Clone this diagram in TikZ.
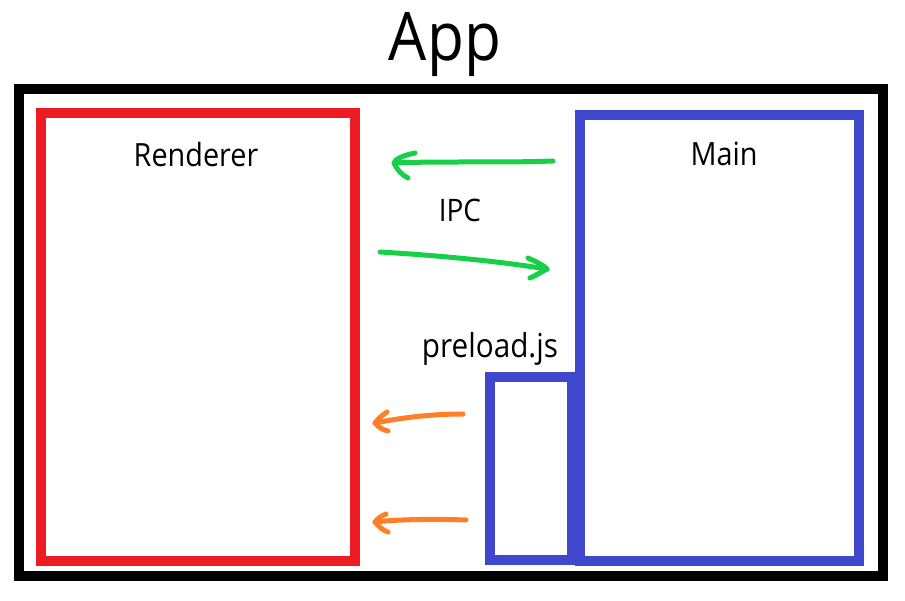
\documentclass[tikz,border=0pt]{standalone}
\usepackage{fontspec}
\setmainfont[FakeStretch=0.9]{Open Sans}
\definecolor{appblack}{RGB}{0,0,0}
\definecolor{rendred}{RGB}{237,28,36}
\definecolor{mainblue}{RGB}{63,72,204}
\definecolor{ipcgreen}{RGB}{22,208,72}
\definecolor{preorange}{RGB}{255,127,39}
\begin{document}
\begin{tikzpicture}[x=1pt,y=-1pt,
  boxline/.style={draw=#1,line width=10pt,fill=none,inner sep=0pt,outer sep=0pt},
  lbl/.style={anchor=base,inner sep=0pt,font=\fontsize{32}{36}\selectfont},
  stroke/.style={draw=#1,line width=5pt,line cap=round,line join=round}]
\useasboundingbox[fill=white] (0,0) rectangle (905,601);
% frames
\node[boxline=appblack,minimum width=864.3pt,minimum height=486.8pt] (app) at (451.15,332.4) {};
\node[boxline=rendred,minimum width=314.3pt,minimum height=447.7pt] (renderer) at (198.15,336.85) {};
\node[boxline=mainblue,minimum width=278.7pt,minimum height=446pt] (main) at (719.35,338) {};
\node[boxline=mainblue,minimum width=82pt,minimum height=182.5pt] (preload) at (531,468.25) {};
% texts
\node[lbl,font=\fontsize{67}{70}\selectfont] (apptxt) at (445,61) {App};
\node[lbl] (rendtxt) at (196,167) {Renderer};
\node[lbl] (maintxt) at (724,166) {Main};
\node[lbl,font=\fontsize{31}{34}\selectfont] (ipctxt) at (460,222) {IPC};
\node[lbl,font=\fontsize{33}{36}\selectfont] (pretxt) at (490,358) {preload.js};
% arrow coordinates
\coordinate (g1s) at (553,161);
\coordinate (g1e) at (394,163);
\coordinate (g2s) at (380,252);
\coordinate (g2e) at (547,269);
\coordinate (o1s) at (463,414);
\coordinate (o1e) at (375,423);
\coordinate (o2s) at (466,520);
\coordinate (o2e) at (375,522);
% green IPC arrows
\draw[stroke=ipcgreen] (g1s) .. controls (500,163) and (440,161) .. (g1e);
\draw[stroke=ipcgreen] (415,153) .. controls (400,156) and (395,160) .. (g1e) .. controls (397,170) and (402,175) .. (408,178);
\draw[stroke=ipcgreen] (g2s) .. controls (430,255) and (490,260) .. (g2e);
\draw[stroke=ipcgreen] (528,258) .. controls (537,262) and (543,265) .. (g2e) .. controls (541,272) and (535,276) .. (530,278);
% orange arrows
\draw[stroke=preorange] (o1s) .. controls (430,414) and (400,418) .. (o1e);
\draw[stroke=preorange] (387,412) .. controls (381,416) and (377,420) .. (o1e) .. controls (378,427) and (383,430) .. (388,431);
\draw[stroke=preorange] (o2s) .. controls (440,519) and (400,519) .. (o2e);
\draw[stroke=preorange] (386,514) .. controls (381,516) and (377,519) .. (o2e) .. controls (379,527) and (384,531) .. (388,532);
\end{tikzpicture}
\end{document}
